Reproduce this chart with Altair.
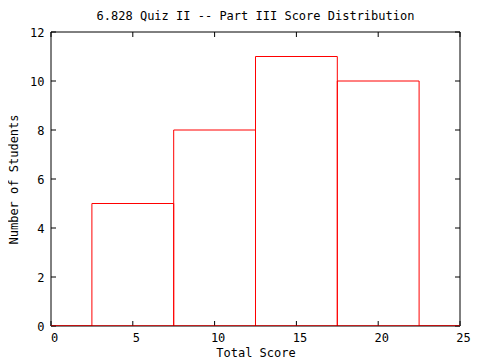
import altair as alt
import pandas as pd

# Data
scores = [0, 5, 10, 15, 20, 25]
counts = [0, 5, 8, 11, 10, 0]
bin_width = 5
x_ticks = [0, 5, 10, 15, 20, 25]
y_ticks = [0, 2, 4, 6, 8, 10, 12]

W, H = 409, 294
FONT = "DejaVu Sans Mono"

df = pd.DataFrame({"score": scores, "count": counts})
df["lo"] = df["score"] - bin_width / 2
df["hi"] = df["score"] + bin_width / 2

xscale = alt.Scale(domain=[0, 25], nice=False, zero=False)
yscale = alt.Scale(domain=[0, 12], nice=False)

xaxis = alt.Axis(values=x_ticks, tickSize=0, domain=False, grid=False,
                 title="Total Score", labelPadding=6, labelOffset=3,
                 labelFlush=False, titlePadding=4)
yaxis = alt.Axis(values=y_ticks, tickSize=0, domain=False, grid=False,
                 title="Number of Students", labelPadding=7, titlePadding=9,
                 labelFlush=False)

xt = pd.DataFrame({"t": x_ticks})
yt = pd.DataFrame({"t": y_ticks})

# plot frame (black), drawn first so red bars sit on top of it
frame_v = alt.Chart(pd.DataFrame({"t": [0, 25]})).mark_rule(color="black").encode(
    x=alt.X("t:Q", scale=xscale, axis=xaxis), y=alt.value(0), y2=alt.value(H))
frame_h = alt.Chart(pd.DataFrame({"t": [0, 12]})).mark_rule(color="black").encode(
    y=alt.Y("t:Q", scale=yscale, axis=yaxis), x=alt.value(0), x2=alt.value(W))

bars = alt.Chart(df).mark_rect(
    fill="white", fillOpacity=0, stroke="#ff0000", strokeWidth=1, clip=True
).encode(
    x=alt.X("lo:Q", scale=xscale, axis=xaxis),
    x2="hi:Q",
    y=alt.Y("count:Q", scale=yscale, axis=yaxis),
    y2=alt.datum(0),
)

base = alt.Chart(df).mark_rule(color="#ff0000", strokeWidth=1, clip=True).encode(
    x=alt.X("lo:Q", scale=xscale, axis=xaxis),
    x2="hi:Q",
    y=alt.datum(0, scale=yscale),
)

xb = alt.Chart(xt).mark_rule(color="black").encode(
    x=alt.X("t:Q", scale=xscale, axis=xaxis), y=alt.value(H), y2=alt.value(H - 5))
xtop = alt.Chart(xt).mark_rule(color="black").encode(
    x=alt.X("t:Q", scale=xscale, axis=xaxis), y=alt.value(0), y2=alt.value(5))
yl = alt.Chart(yt).mark_rule(color="black").encode(
    y=alt.Y("t:Q", scale=yscale, axis=yaxis), x=alt.value(0), x2=alt.value(5))
yr = alt.Chart(yt).mark_rule(color="black").encode(
    y=alt.Y("t:Q", scale=yscale, axis=yaxis), x=alt.value(W), x2=alt.value(W - 5))

chart = alt.layer(bars, frame_v, frame_h, xb, xtop, yl, yr, base).properties(
    width=W, height=H,
    background="white",
    title=alt.TitleParams("6.828 Quiz II -- Part III Score Distribution",
                          font=FONT, fontSize=12, fontWeight="normal",
                          color="black", offset=3),
    autosize=alt.AutoSizeParams(type="none"),
    padding={"left": 43, "top": 24, "right": 12, "bottom": 34},
).configure_view(
    strokeWidth=0
).configure_axis(
    labelFont=FONT, labelFontSize=12, labelColor="black",
    titleFont=FONT, titleFontSize=12, titleFontWeight="normal", titleColor="black",
)

chart.save("out.html", embed_options={"renderer": "svg", "actions": False})
